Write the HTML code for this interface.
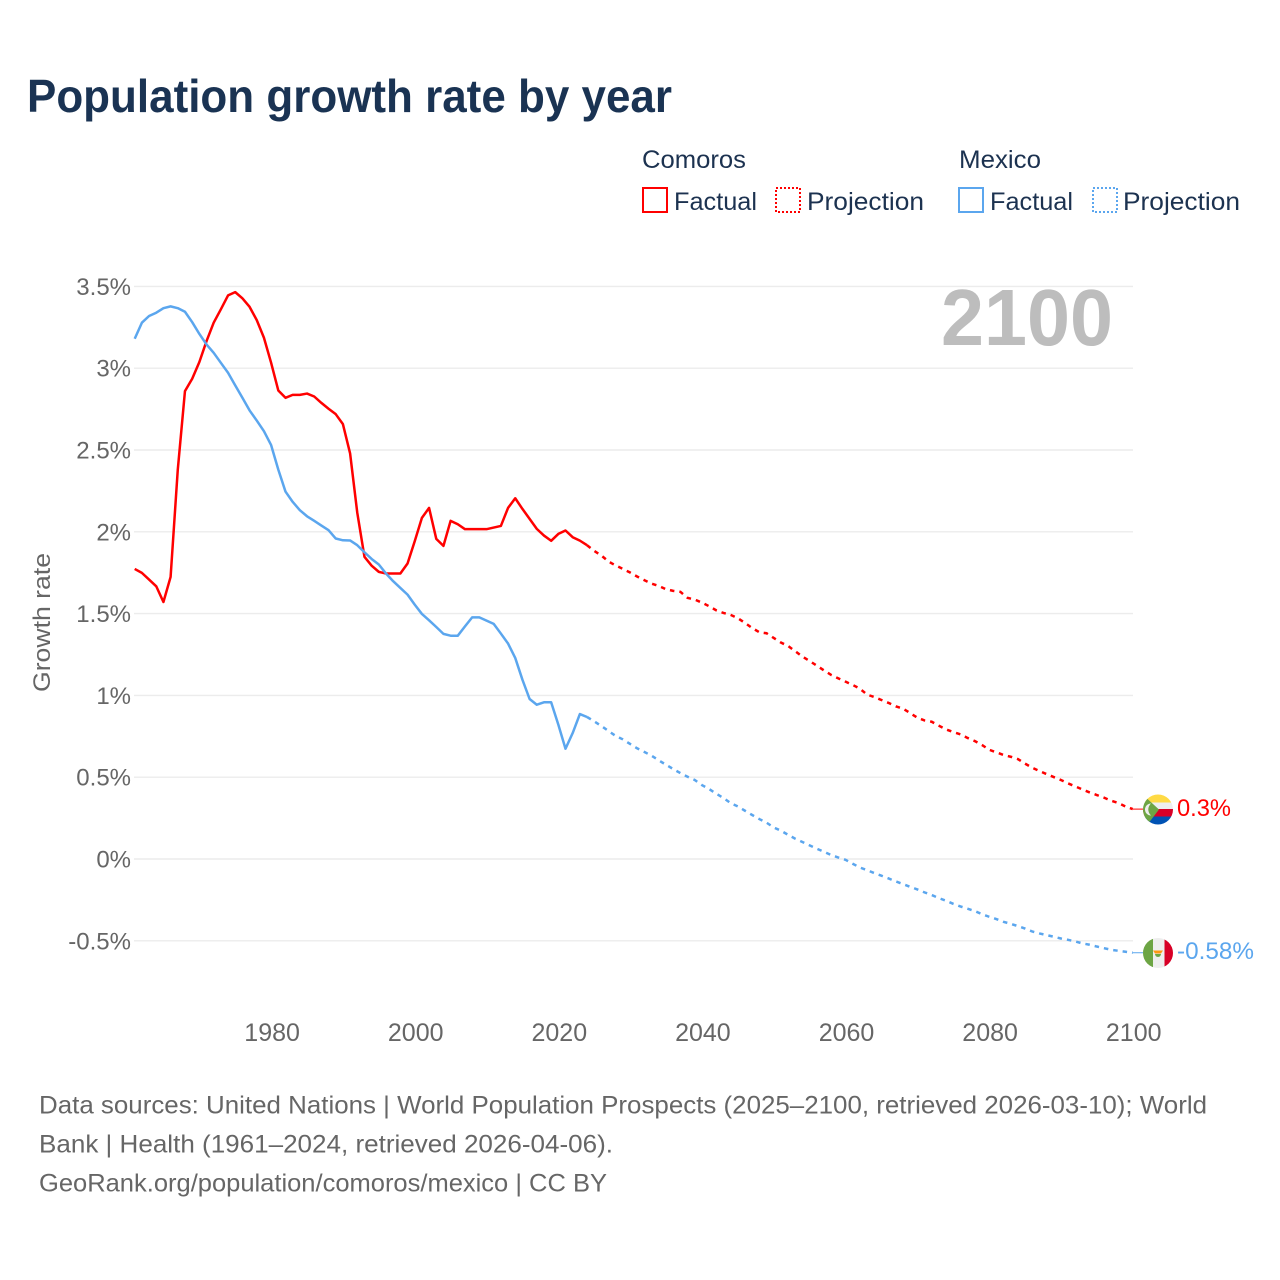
<!DOCTYPE html>
<html lang="en">
<head>
<meta charset="utf-8">
<title>Population growth rate by year</title>
<style>
html,body{margin:0;padding:0;background:#fff;width:1280px;height:1280px;overflow:hidden}
svg{display:block;font-family:"Liberation Sans",sans-serif}
</style>
</head>
<body>
<svg id="chart" xmlns="http://www.w3.org/2000/svg" width="1280" height="1280" viewBox="0 0 1280 1280">
  <rect x="0" y="0" width="1280" height="1280" fill="#fff"/>
  <text x="27" y="112" font-size="46" font-weight="700" fill="#1a3353" textLength="645" lengthAdjust="spacingAndGlyphs">Population growth rate by year</text>

  <g font-size="25" fill="#1c3250">
    <text x="642" y="168" textLength="104" lengthAdjust="spacingAndGlyphs">Comoros</text>
    <text x="959" y="168" textLength="82" lengthAdjust="spacingAndGlyphs">Mexico</text>
    <rect x="643" y="188" width="24" height="24" fill="none" stroke="#ff0000" stroke-width="2"/>
    <text x="674" y="210" textLength="83" lengthAdjust="spacingAndGlyphs">Factual</text>
    <rect x="776" y="188" width="24" height="24" fill="none" stroke="#ff0000" stroke-width="2" stroke-dasharray="2 2"/>
    <text x="807" y="210" textLength="117" lengthAdjust="spacingAndGlyphs">Projection</text>
    <rect x="959" y="188" width="24" height="24" fill="none" stroke="#5ba6ee" stroke-width="2"/>
    <text x="990" y="210" textLength="83" lengthAdjust="spacingAndGlyphs">Factual</text>
    <rect x="1093" y="188" width="24" height="24" fill="none" stroke="#5ba6ee" stroke-width="2" stroke-dasharray="2 2"/>
    <text x="1123" y="210" textLength="117" lengthAdjust="spacingAndGlyphs">Projection</text>
  </g>

  <g id="grid"></g>
  <g id="yticks"></g>
  <g id="xticks"></g>

  <text x="1113" y="345" font-size="80" font-weight="700" fill="#bdbdbd" text-anchor="end" textLength="172" lengthAdjust="spacingAndGlyphs">2100</text>
  <text transform="translate(50 692) rotate(-90)" font-size="24" fill="#666" textLength="139" lengthAdjust="spacingAndGlyphs">Growth rate</text>

  <g id="series"></g>

  <defs>
    <clipPath id="clip-km"><circle cx="1158" cy="809.5" r="15"/></clipPath>
    <clipPath id="clip-mx"><circle cx="1158" cy="953" r="15"/></clipPath>
  </defs>
  <g clip-path="url(#clip-km)">
    <rect x="1143" y="794" width="30" height="8.5" fill="#ffda44"/>
    <rect x="1143" y="802.5" width="30" height="6.5" fill="#eeeeee"/>
    <rect x="1143" y="809" width="30" height="7.5" fill="#d80027"/>
    <rect x="1143" y="816.5" width="30" height="8.5" fill="#0052b4"/>
    <polygon points="1141,793 1159,809.5 1141,833" fill="#6da544"/>
    <path d="M1151 803.5 a6 6 0 1 0 0 12 a8 8 0 0 1 0 -12z" fill="#eeeeee"/>
  </g>
  <g clip-path="url(#clip-mx)">
    <rect x="1143" y="938" width="30" height="30" fill="#eeeeee"/>
    <rect x="1143" y="938" width="10" height="30" fill="#6da544"/>
    <rect x="1164.5" y="938" width="9" height="30" fill="#d80027"/>
    <path d="M1153 950.5 h10 l-2 3 h-6z" fill="#ff9811"/>
    <path d="M1155 954 h6 a3 3 0 0 1 -6 0z" fill="#6da544"/>
  </g>

  <text x="1177" y="816" font-size="24.5" fill="#ff0000" textLength="54" lengthAdjust="spacingAndGlyphs">0.3%</text>
  <text x="1177" y="959" font-size="24.5" fill="#5ba6ee" textLength="77" lengthAdjust="spacingAndGlyphs">-0.58%</text>

  <g font-size="25" fill="#666">
    <text x="39" y="1113.5" textLength="1168" lengthAdjust="spacingAndGlyphs">Data sources: United Nations | World Population Prospects (2025–2100, retrieved 2026-03-10); World</text>
    <text x="39" y="1152.5" textLength="574" lengthAdjust="spacingAndGlyphs">Bank | Health (1961–2024, retrieved 2026-04-06).</text>
    <text x="39" y="1191.5" textLength="568" lengthAdjust="spacingAndGlyphs">GeoRank.org/population/comoros/mexico | CC BY</text>
  </g>
</svg>

<script>
const factualStartYear = 1961;
const projectionStartYear = 2025;
const yTickValues = [3.5, 3, 2.5, 2, 1.5, 1, 0.5, 0, -0.5];
const yTickLabels = ["3.5%", "3%", "2.5%", "2%", "1.5%", "1%", "0.5%", "0%", "-0.5%"];
const xTickYears = [1980, 2000, 2020, 2040, 2060, 2080, 2100];

const comorosFactual = [1.773,1.749,1.708,1.667,1.571,1.724,2.38,2.86,2.935,3.037,3.165,3.278,3.36,3.445,3.465,3.427,3.375,3.294,3.186,3.033,
  2.864,2.819,2.837,2.837,2.845,2.827,2.788,2.752,2.719,2.658,2.479,2.116,1.847,1.793,1.755,1.745,1.745,1.745,1.806,1.942,
  2.085,2.146,1.957,1.914,2.067,2.046,2.016,2.016,2.016,2.016,2.026,2.036,2.146,2.205,2.14,2.079,2.018,1.977,1.945,1.987,
  2.008,1.967,1.946,1.918];
const comorosProjection = [1.883,1.855,1.818,1.794,1.773,1.751,1.726,1.704,1.683,1.669,1.649,1.639,1.633,1.596,1.586,1.567,1.545,1.52,1.504,1.492,
  1.472,1.443,1.412,1.386,1.38,1.351,1.323,1.302,1.27,1.237,1.21,1.182,1.153,1.125,1.104,1.084,1.064,1.041,1.005,0.99,
  0.972,0.954,0.933,0.919,0.892,0.864,0.847,0.839,0.815,0.792,0.776,0.762,0.74,0.721,0.697,0.668,0.652,0.636,0.625,0.611,
  0.583,0.558,0.538,0.519,0.501,0.483,0.462,0.444,0.425,0.407,0.391,0.375,0.356,0.342,0.321,0.305];
const mexicoFactual = [3.18,3.278,3.319,3.339,3.367,3.378,3.367,3.345,3.282,3.21,3.145,3.094,3.033,2.972,2.895,2.819,2.742,2.68,2.615,2.53,
  2.38,2.246,2.183,2.132,2.095,2.067,2.038,2.01,1.959,1.948,1.947,1.918,1.875,1.834,1.8,1.745,1.698,1.657,1.616,1.555,
  1.498,1.459,1.418,1.376,1.365,1.365,1.422,1.477,1.477,1.457,1.437,1.378,1.317,1.229,1.096,0.978,0.943,0.958,0.958,0.821,
  0.674,0.77,0.886,0.868];
const mexicoProjection = [0.841,0.813,0.782,0.752,0.731,0.703,0.676,0.654,0.631,0.603,0.576,0.55,0.525,0.503,0.483,0.452,0.428,0.399,0.373,0.342,
  0.321,0.295,0.269,0.244,0.222,0.193,0.173,0.148,0.124,0.104,0.083,0.063,0.044,0.024,0.009,-0.005,-0.029,-0.052,-0.068,-0.086,
  -0.102,-0.119,-0.137,-0.153,-0.17,-0.186,-0.204,-0.22,-0.239,-0.255,-0.274,-0.29,-0.304,-0.318,-0.337,-0.353,-0.367,-0.384,-0.396,-0.41,
  -0.425,-0.443,-0.455,-0.465,-0.475,-0.486,-0.494,-0.504,-0.516,-0.524,-0.535,-0.545,-0.555,-0.561,-0.567,-0.573];

const NS = "http://www.w3.org/2000/svg";
const COMOROS_COLOR = "#ff0000";
const MEXICO_COLOR = "#5ba6ee";

function xScale(year) { return 134.7 + (year - 1961) * 7.18; }
function yScale(value) { return 859 - value * 163.6; }

function pathFrom(startYear, values) {
  return values.map(function (v, i) {
    return (i ? "L" : "M") + xScale(startYear + i).toFixed(2) + " " + yScale(v).toFixed(2);
  }).join(" ");
}

const gridGroup = document.getElementById("grid");
const yGroup = document.getElementById("yticks");
yTickValues.forEach(function (value, i) {
  const line = document.createElementNS(NS, "line");
  
  
  line.setAttribute("x1", 134);
  line.setAttribute("x2", 1133);
  line.setAttribute("y1", yScale(value));
  line.setAttribute("y2", yScale(value));
  line.setAttribute("stroke", "#ececec");
  line.setAttribute("stroke-width", "1.4");
  gridGroup.appendChild(line);

  const label = document.createElementNS(NS, "text");
  
  
  label.setAttribute("x", 131);
  label.setAttribute("y", yScale(value) + 8.5);
  label.setAttribute("text-anchor", "end");
  label.setAttribute("font-size", "24");
  label.setAttribute("fill", "#666");
  label.textContent = yTickLabels[i];
  yGroup.appendChild(label);
});

const xGroup = document.getElementById("xticks");
xTickYears.forEach(function (year) {
  const label = document.createElementNS(NS, "text");
  
  
  label.setAttribute("x", xScale(year) + 1);
  label.setAttribute("y", 1041);
  label.setAttribute("text-anchor", "middle");
  label.setAttribute("font-size", "25");
  label.setAttribute("fill", "#666");
  label.textContent = String(year);
  xGroup.appendChild(label);
});

const seriesGroup = document.getElementById("series");

function drawCountry(name, color, factual, projection) {
  const solid = document.createElementNS(NS, "path");
  
  
  solid.setAttribute("d", pathFrom(factualStartYear, factual));
  solid.setAttribute("fill", "none");
  solid.setAttribute("stroke", color);
  solid.setAttribute("stroke-width", "2.5");
  solid.setAttribute("stroke-linejoin", "round");
  seriesGroup.appendChild(solid);

  const dashedValues = [factual[factual.length - 1]].concat(projection);
  const dashed = document.createElementNS(NS, "path");
  
  
  dashed.setAttribute("d", pathFrom(projectionStartYear - 1, dashedValues));
  dashed.setAttribute("fill", "none");
  dashed.setAttribute("stroke", color);
  dashed.setAttribute("stroke-width", "2.5");
  dashed.setAttribute("stroke-dasharray", "4.5 5");
  seriesGroup.appendChild(dashed);

  const endY = yScale(projection[projection.length - 1]);
  const connector = document.createElementNS(NS, "line");
  
  
  connector.setAttribute("x1", xScale(2100));
  connector.setAttribute("x2", 1144);
  connector.setAttribute("y1", endY);
  connector.setAttribute("y2", endY);
  connector.setAttribute("stroke", color);
  connector.setAttribute("stroke-width", "1");
  seriesGroup.appendChild(connector);
}

drawCountry("comoros", COMOROS_COLOR, comorosFactual, comorosProjection);
drawCountry("mexico", MEXICO_COLOR, mexicoFactual, mexicoProjection);
</script>
</body>
</html>
